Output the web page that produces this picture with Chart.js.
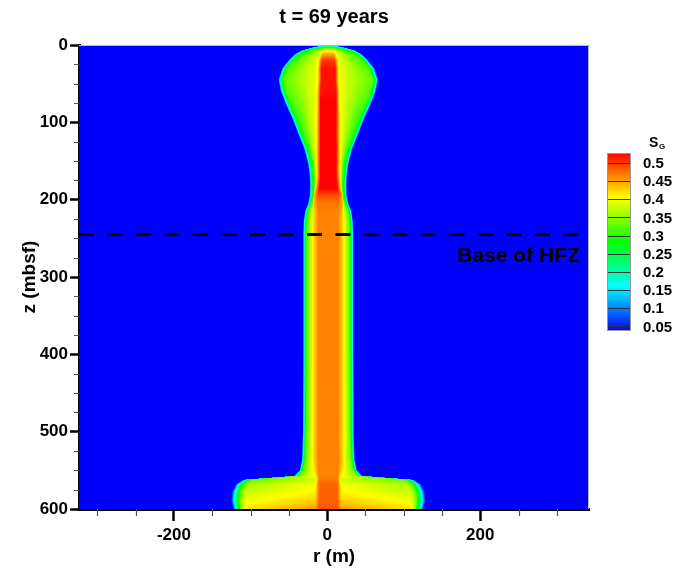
<!DOCTYPE html>
<html>
<head>
<meta charset="utf-8">
<title>t = 69 years</title>
<script src="https://cdn.jsdelivr.net/npm/chart.js@4/dist/chart.umd.min.js"></script>
<style>
  html, body { margin: 0; padding: 0; background: #fff; }
  #wrap { width: 673px; height: 568px; }
</style>
</head>
<body>
<div id="wrap"><canvas id="sgChart" width="673" height="568"></canvas></div>
<script>
// S_G around the vent after 69 years, read as radial profiles per depth station
// depth (mbsf), radii in m, saturations as fractions
const depths     = [0,   3,   7,   12,  20,  30,  45,  60,  75,  95,  115, 135, 155, 170, 182, 195, 205, 215, 228, 245, 300, 400, 500, 535, 550, 557, 562, 568, 578, 590, 600];
const edgeRadius = [8,   22,  36,  45,  53,  61,  66,  63,  57,  48,  40,  32,  27,  25,  24.5,25,  27,  31,  33,  33.5,33.5,33.5,34,  35,  38,  45,  112, 122, 127, 128, 125];
const rimWidth   = [6,   8,   9,   9,   9,   9,   9,   9,   8,   8,   7,   7,   7,   6,   6,   6,   6,   6,   7,   7,   7,   7,   7,   7,   7,   8,   14,  18,  21,  22,  20];
const coreRadius = [0,   4,   6,   7,   8,   9,   9,   10,  10,  10,  10,  10,  10,  10,  11,  14,  14,  13,  13,  13,  13,  13,  13,  13,  13,  12,  12,  12,  12,  12,  12];
const coreSat    = [.12, .30, .40, .45, .50, .52, .52, .52, .53, .53, .53, .53, .53, .53, .54, .49, .47, .465,.465,.465,.465,.465,.465,.465,.465,.465,.47, .48, .48, .48, .49];
const innerSat   = [.10, .28, .36, .39, .40, .40, .40, .40, .40, .41, .41, .42, .42, .42, .42, .43, .43, .43, .43, .43, .43, .43, .43, .43, .42, .41, .38, .40, .41, .43, .45];
const rimSat     = [.08, .20, .28, .30, .31, .32, .33, .32, .31, .30, .30, .30, .30, .30, .30, .31, .32, .33, .34, .34, .34, .34, .34, .34, .34, .34, .33, .36, .38, .40, .42];
const plumeAxis  = 1.5;   // r of the plume centre line

const hfzDepth = 245;
const rRange = [-324, 342];
const zRange = [0, 600];
const rTicks = [-200, 0, 200];
const zTicks = [0, 100, 200, 300, 400, 500, 600];
const sgLevels = [0.5, 0.45, 0.4, 0.35, 0.3, 0.25, 0.2, 0.15, 0.1, 0.05];
const sgLabels = ['0.5', '0.45', '0.4', '0.35', '0.3', '0.25', '0.2', '0.15', '0.1', '0.05'];
const sgRange = [0.0375, 0.5275];

const FONT = "'Liberation Sans', Arial, sans-serif";

// blue - cyan - green - yellow - red
function sgColor(s) {
  const stops = [[0, 0, 255], [0, 255, 255], [0, 255, 0], [255, 255, 0], [255, 0, 0]];
  let t = (s - sgRange[0]) / (sgRange[1] - sgRange[0]);
  t = Math.max(0, Math.min(1, t)) * (stops.length - 1);
  const i = Math.min(stops.length - 2, Math.floor(t));
  const f = t - i;
  return stops[i].map((c, k) => Math.round(c + (stops[i + 1][k] - c) * f));
}

function profileAt(z) {
  let k = 0;
  while (k < depths.length - 2 && z > depths[k + 1]) k++;
  const f = Math.max(0, Math.min(1, (z - depths[k]) / (depths[k + 1] - depths[k])));
  const mix = arr => arr[k] + (arr[k + 1] - arr[k]) * f;
  return {
    edge: mix(edgeRadius), rimW: mix(rimWidth), coreR: mix(coreRadius),
    coreS: mix(coreSat), innerS: mix(innerSat), rimS: mix(rimSat)
  };
}

function satAt(d, p) {
  if (d >= p.edge) return 0;
  const rimStart = Math.max(0, p.edge - p.rimW);
  if (d >= rimStart) {
    const t = (d - rimStart) / (p.edge - rimStart);
    return p.rimS * (1 - t * t);
  }
  if (d <= p.coreR) return p.coreS;
  const innerEdge = Math.min(p.coreR + 5, rimStart);
  if (d <= innerEdge) return p.coreS + (p.innerS - p.coreS) * (d - p.coreR) / (innerEdge - p.coreR);
  return p.innerS + (p.rimS - p.innerS) * (d - innerEdge) / (rimStart - innerEdge);
}

// flood of S_G over the plot area
const fieldPlugin = {
  id: 'sgField',
  beforeDatasetsDraw(chart) {
    const { ctx, chartArea: a, scales: { x, y } } = chart;
    const left = Math.round(a.left), top = Math.round(a.top);
    const w = Math.round(a.right) - left, h = Math.round(a.bottom) - top;
    const off = document.createElement('canvas');
    off.width = w; off.height = h;
    const octx = off.getContext('2d');
    const img = octx.createImageData(w, h);
    for (let j = 0; j < h; j++) {
      const p = profileAt(y.getValueForPixel(top + j + 0.5));
      for (let i = 0; i < w; i++) {
        const r = x.getValueForPixel(left + i + 0.5);
        const c = sgColor(satAt(Math.abs(r - plumeAxis), p));
        const n = (j * w + i) * 4;
        img.data[n] = c[0]; img.data[n + 1] = c[1]; img.data[n + 2] = c[2]; img.data[n + 3] = 255;
      }
    }
    octx.putImageData(img, 0, 0);
    ctx.save();
    ctx.drawImage(off, left, top);
    ctx.strokeStyle = '#b8b8c8';
    ctx.lineWidth = 1;
    ctx.beginPath();
    ctx.moveTo(left, top + 0.5); ctx.lineTo(left + w - 0.5, top + 0.5); ctx.lineTo(left + w - 0.5, top + h);
    ctx.stroke();
    ctx.restore();
  }
};

// minor ticks, title, HFZ label and colour legend
const decorPlugin = {
  id: 'decor',
  afterDraw(chart) {
    const { ctx, chartArea: a, scales: { x, y } } = chart;
    ctx.save();
    ctx.strokeStyle = '#555';
    ctx.lineWidth = 1.2;
    ctx.beginPath();
    for (let r = -300; r <= rRange[1]; r += 50) {
      if (r % 200 === 0) continue;
      const px = Math.round(x.getPixelForValue(r)) + 0.5;
      ctx.moveTo(px, a.bottom); ctx.lineTo(px, a.bottom + 7);
    }
    for (let z = 25; z < zRange[1]; z += 25) {
      if (z % 100 === 0) continue;
      const py = Math.round(y.getPixelForValue(z)) + 0.5;
      ctx.moveTo(a.left - 5, py); ctx.lineTo(a.left, py);
    }
    ctx.stroke();

    ctx.fillStyle = '#000';
    ctx.textAlign = 'center';
    ctx.textBaseline = 'middle';
    ctx.font = 'bold 20px ' + FONT;
    ctx.fillText('t = 69 years', 334, 17);

    ctx.textAlign = 'right';
    ctx.textBaseline = 'alphabetic';
    ctx.font = 'bold 21px ' + FONT;
    ctx.fillText('Base of HFZ', x.getPixelForValue(330), y.getPixelForValue(hfzDepth) + 28);

    // colour legend
    const bx = 607, bw = 24, bTop = 153, bBot = 331;
    const vy = v => bTop + (sgRange[1] - v) / (sgRange[1] - sgRange[0]) * (bBot - bTop);
    for (let py = bTop; py < bBot; py++) {
      const c = sgColor(sgRange[1] - (py + 0.5 - bTop) / (bBot - bTop) * (sgRange[1] - sgRange[0]));
      ctx.fillStyle = `rgb(${c[0]},${c[1]},${c[2]})`;
      ctx.fillRect(bx, py, bw, 1);
    }
    ctx.strokeStyle = '#333';
    ctx.lineWidth = 1;
    ctx.beginPath();
    sgLevels.forEach(v => {
      const py = Math.round(vy(v)) + 0.5;
      ctx.moveTo(bx, py); ctx.lineTo(bx + bw, py);
    });
    ctx.stroke();
    ctx.strokeStyle = '#999';
    ctx.strokeRect(bx + 0.5, bTop + 0.5, bw - 1, bBot - bTop - 1);

    ctx.fillStyle = '#000';
    ctx.textAlign = 'left';
    ctx.textBaseline = 'middle';
    ctx.font = 'bold 15px ' + FONT;
    sgLevels.forEach((v, i) => ctx.fillText(sgLabels[i], 643, vy(v) + 1));
    ctx.font = 'bold 14px ' + FONT;
    ctx.fillText('S', 649, 143);
    ctx.font = 'bold 8px ' + FONT;
    ctx.fillText('G', 659, 147);
    ctx.restore();
  }
};

const ctx = document.getElementById('sgChart').getContext('2d');
const chart = new Chart(ctx, {
  type: 'line',
  data: {
    datasets: [{
      label: 'Base of HFZ',
      data: [{ x: rRange[0], y: hfzDepth }, { x: rRange[1], y: hfzDepth }],
      borderColor: '#000',
      borderWidth: 3,
      borderDash: [15, 13.5],
      borderCapStyle: 'butt',
      pointRadius: 0,
      fill: false
    }]
  },
  options: {
    responsive: false,
    animation: false,
    events: [],
    layout: { padding: { left: 0, top: 45, right: 84, bottom: 0 } },
    plugins: { legend: { display: false }, tooltip: { enabled: false } },
    scales: {
      x: {
        type: 'linear',
        position: 'bottom',
        min: rRange[0],
        max: rRange[1],
        afterBuildTicks: s => { s.ticks = rTicks.map(v => ({ value: v })); },
        afterFit: s => { s.height = 59; },
        ticks: { color: '#000', font: { family: FONT, size: 17, weight: 'bold' }, padding: 4, maxRotation: 0, autoSkip: false },
        grid: { drawOnChartArea: false, tickLength: 12, tickWidth: 2.5, tickColor: '#000' },
        border: { color: '#000', width: 3 },
        title: { display: true, text: 'r (m)', color: '#000', font: { family: FONT, size: 19, weight: 'bold', lineHeight: 1.2 }, padding: { top: 0, bottom: 0 } }
      },
      y: {
        type: 'linear',
        reverse: true,
        min: zRange[0],
        max: zRange[1],
        afterBuildTicks: s => { s.ticks = zTicks.map(v => ({ value: v })); },
        afterFit: s => { s.width = 79; },
        ticks: { color: '#000', font: { family: FONT, size: 17, weight: 'bold' }, padding: 2, autoSkip: false },
        grid: { drawOnChartArea: false, tickLength: 9, tickWidth: 2.5, tickColor: '#000' },
        border: { color: '#000', width: 3 },
        title: { display: true, text: 'z (mbsf)', color: '#000', font: { family: FONT, size: 19, weight: 'bold', lineHeight: 1.2 }, padding: { top: 18, bottom: 0 } }
      }
    }
  },
  plugins: [fieldPlugin, decorPlugin]
});
</script>
</body>
</html>
